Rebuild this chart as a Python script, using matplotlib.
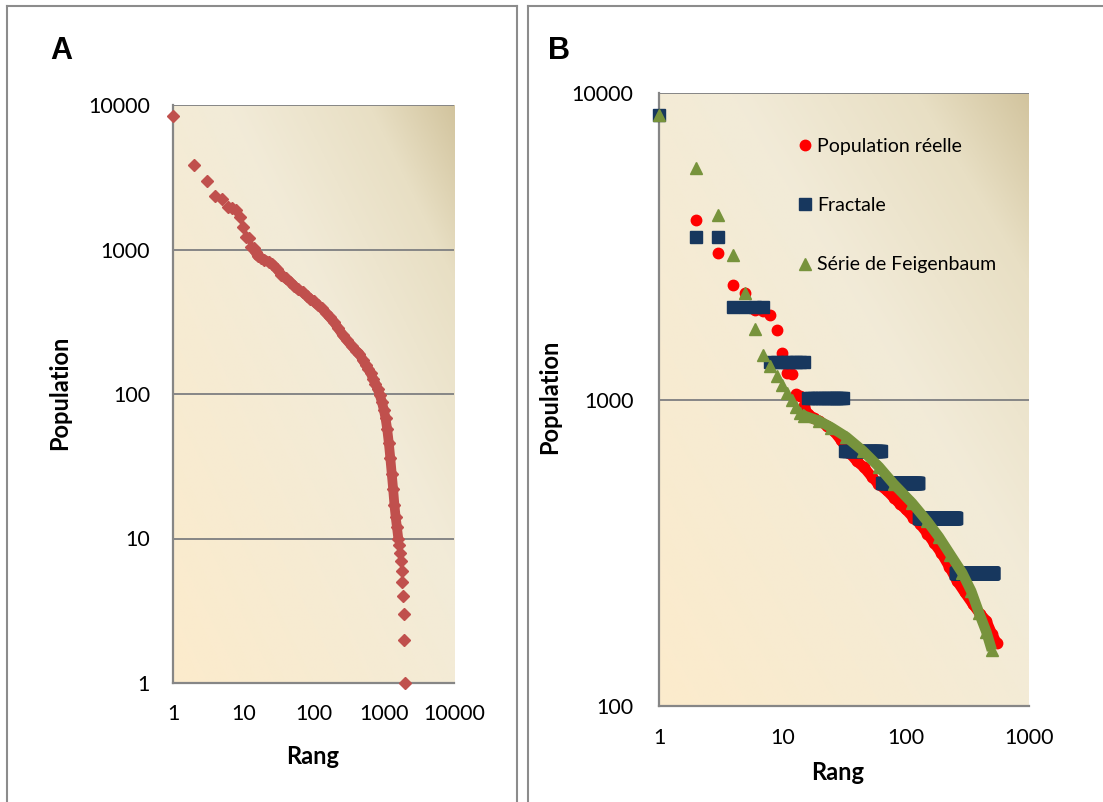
import numpy as np
import matplotlib
matplotlib.use('Agg')
import matplotlib.pyplot as plt
from matplotlib.lines import Line2D
from matplotlib.ticker import FixedLocator, NullLocator, FixedFormatter

plt.rcParams['font.family'] = ['Lato', 'DejaVu Sans']

# population reelle : rang -> population
rang_reel = [1, 2, 3, 4, 5, 6, 7, 8, 9, 10, 11, 12, 13, 14, 15, 16, 18, 20, 23, 26,
             30, 35, 40, 46, 53, 60, 70, 80, 90, 100, 115, 130, 150, 170, 195, 225,
             260, 300, 350, 400, 450, 500, 550, 600, 650, 700, 760, 820, 880, 940,
             1000, 1060, 1120, 1180, 1240, 1300, 1360, 1420, 1480, 1540, 1611, 1645,
             1680, 1742, 1801, 1838, 1880, 1921, 1962, 2023]
pop_reelle = [8450, 3850, 3000, 2360, 2220, 1960, 1940, 1890, 1690, 1420, 1220, 1210,
              1045, 1030, 955, 900, 870, 850, 820, 790, 735, 670, 630, 600, 560, 530,
              505, 478, 455, 438, 412, 393, 365, 340, 315, 285, 256, 235, 215, 200,
              190, 172, 160, 150, 140, 128, 118, 108, 98, 88, 78, 68, 57, 46, 36, 28,
              22, 17, 14, 12, 10, 9, 8, 7, 6, 5, 4, 3, 2, 1]

# fractale : paliers (rang debut, rang fin, valeur)
frac_debut = [1, 2, 4, 8, 16, 32, 64, 128, 256]
frac_fin = [1, 3, 7, 15, 31, 63, 127, 255, 511]
frac_val = [8500, 3400, 2000, 1325, 1015, 680, 534, 410, 272]

# serie de Feigenbaum
rang_feig = [1, 2, 3, 4, 5, 6, 7, 8, 9, 10, 11, 12, 13, 14, 15, 20, 25, 33, 45, 61,
             80, 113, 150, 186, 230, 287, 340, 394, 450, 500]
pop_feig = [8500, 5690, 4000, 2960, 2225, 1695, 1400, 1290, 1195, 1115, 1050, 995,
            945, 905, 885, 850, 810, 755, 680, 602, 530, 459, 400, 356, 312, 272,
            237, 201, 175, 152]

ticks_a = [1, 10, 100, 1000, 10000]
ticks_b_x = [1, 10, 100, 1000]
ticks_b_y = [100, 1000, 10000]

W, H = 1103, 802
fig = plt.figure(figsize=(W / 100, H / 100), dpi=100)

def box(l, t, r, b):
    return [l / W, 1 - b / H, (r - l) / W, (b - t) / H]

# fond degrade facon Excel
def fond(pos):
    n = 200
    u, v = np.meshgrid(np.linspace(0, 1, n), np.linspace(0, 1, n))
    t = (u + v) / 2
    stops = [0, 0.6, 0.85, 1]
    cols = np.array([[252, 235, 204], [242, 235, 216], [232, 223, 196], [210, 196, 158]]) / 255
    img = np.zeros((n, n, 3))
    for k in range(3):
        img[..., k] = np.interp(t, stops, cols[:, k])
    bg = fig.add_axes(pos, zorder=0)
    bg.imshow(img, origin='lower', extent=[0, 1, 0, 1], aspect='auto')
    bg.axis('off')

gris = '#868686'

def habiller(ax, xt, yt, ypad, xpad):
    ax.set_facecolor('none')
    ax.set_xscale('log')
    ax.set_yscale('log')
    ax.set_xlim(xt[0], xt[-1])
    ax.set_ylim(yt[0], yt[-1])
    ax.xaxis.set_major_locator(FixedLocator(xt))
    ax.yaxis.set_major_locator(FixedLocator(yt))
    ax.xaxis.set_major_formatter(FixedFormatter([str(v) for v in xt]))
    ax.yaxis.set_major_formatter(FixedFormatter([str(v) for v in yt]))
    ax.xaxis.set_minor_locator(NullLocator())
    ax.yaxis.set_minor_locator(NullLocator())
    ax.grid(axis='y', color=gris, lw=1.4)
    ax.set_axisbelow(True)
    for s in ['top', 'right']:
        ax.spines[s].set_visible(False)
    for s in ['left', 'bottom']:
        ax.spines[s].set_color(gris)
        ax.spines[s].set_linewidth(1.6)
    ax.tick_params(axis='y', length=0, pad=ypad, labelsize=15.5, colors='black')
    ax.tick_params(axis='x', length=0, pad=xpad, labelsize=15.5, colors='black')

# ---------- A ----------
posA = box(173, 105, 454, 683)
fond(posA)
axA = fig.add_axes(posA, zorder=1)
habiller(axA, ticks_a, ticks_a, 16.5, 15)
r = np.array(rang_reel)
p = np.array(pop_reelle, dtype=float)
cont = (r >= 15) & (r <= 1611)
axA.plot(r[cont], p[cont], color='#C0504D', lw=7, solid_capstyle='round', zorder=2)
axA.plot(r, p, ls='none', marker='D', ms=6.5, color='#C0504D', clip_on=False, zorder=3)

# ---------- B ----------
posB = box(659, 93, 1029, 706)
fond(posB)
axB = fig.add_axes(posB, zorder=1)
habiller(axB, ticks_b_x, ticks_b_y, 18.5, 16)

sel = r <= 550
contB = sel & (r >= 15)
axB.plot(r[contB], p[contB], color='#FF0000', lw=7.5, solid_capstyle='round', zorder=2)
axB.plot(r[sel], p[sel], ls='none', marker='o', ms=7.5, color='#FF0000', clip_on=False, zorder=2)

rf = np.concatenate([np.arange(a, b + 1) for a, b in zip(frac_debut, frac_fin)])
vf = np.concatenate([np.full(b - a + 1, v) for a, b, v in zip(frac_debut, frac_fin, frac_val)])
axB.plot(rf, vf, ls='none', marker='s', ms=8, color='#17375E', clip_on=False, zorder=3)

rg = np.array(rang_feig)
pg = np.array(pop_feig, dtype=float)
axB.plot(rg[rg >= 14], pg[rg >= 14], color='#77933C', lw=7.5, solid_capstyle='butt', zorder=4)
axB.plot(rg, pg, ls='none', marker='^', ms=8, color='#77933C', clip_on=False, zorder=4)

handles = [Line2D([], [], ls='none', marker='o', ms=7.5, color='#FF0000'),
           Line2D([], [], ls='none', marker='s', ms=8, color='#17375E'),
           Line2D([], [], ls='none', marker='^', ms=8, color='#77933C')]
fig.legend(handles, ['Population réelle', 'Fractale', 'Série de Feigenbaum'],
           loc='upper left', bbox_to_anchor=(799 / W, 1 - 138 / H), frameon=False,
           fontsize=14, handlelength=0.6, handletextpad=0.35, labelspacing=2.17,
           borderpad=0, borderaxespad=0)

# titres
fig.text(61 / W, 1 - 51 / H, 'A', fontsize=22, fontweight='bold', family='Liberation Sans',
         ha='center', va='center')
fig.text(559 / W, 1 - 51 / H, 'B', fontsize=22, fontweight='bold', family='Liberation Sans',
         ha='center', va='center')
fig.text(313 / W, 1 - 757 / H, 'Rang', fontsize=17, fontweight='bold', ha='center', va='center')
fig.text(838 / W, 1 - 772 / H, 'Rang', fontsize=17, fontweight='bold', ha='center', va='center')
fig.text(60 / W, 1 - 393 / H, 'Population', fontsize=17, fontweight='bold', rotation=90,
         ha='center', va='center')
fig.text(550 / W, 1 - 397 / H, 'Population', fontsize=17, fontweight='bold', rotation=90,
         ha='center', va='center')

# cadre du tableau
def trait(x0, y0, x1, y1):
    fig.add_artist(Line2D([x0 / W, x1 / W], [1 - y0 / H, 1 - y1 / H], color='#8C8C8C', lw=1.5))

trait(7, 6, 517, 6)
trait(528, 6, W, 6)
trait(7, 6, 7, H)
trait(517, 6, 517, H)
trait(528, 6, 528, H)

fig.savefig('out.png', dpi=100)
